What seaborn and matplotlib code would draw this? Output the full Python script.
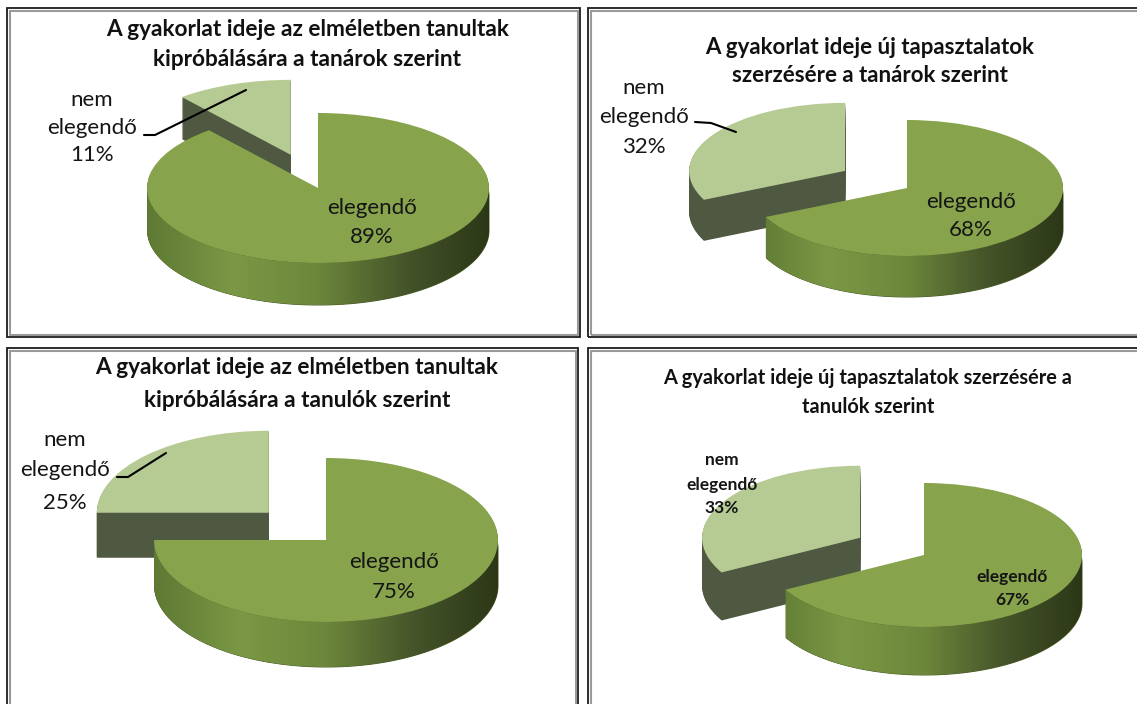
import numpy as np
import matplotlib
matplotlib.use('Agg')
import matplotlib.pyplot as plt
from matplotlib.patches import Rectangle
from matplotlib.lines import Line2D
import seaborn as sns

# data
titles = [
    'A gyakorlat ideje az elméletben tanultak\nkipróbálására a tanárok szerint',
    'A gyakorlat ideje új tapasztalatok\nszerzésére a tanárok szerint',
    'A gyakorlat ideje az elméletben tanultak\nkipróbálására a tanulók szerint',
    'A gyakorlat ideje új tapasztalatok szerzésére a\ntanulók szerint',
]
categories = ['elegendő', 'nem\nelegendő']
enough = [89, 68, 75, 67]
not_enough = [11, 32, 25, 33]

W, H = 1137, 704
sns.set_theme(style='white')
plt.rcParams['font.family'] = ['Lato', 'DejaVu Sans']

bg = '#EAEEDF'
top_big = '#87A34C'
top_small = '#B6CB93'
side_small = '#4F5840'
side_base = '#4A5C28'
side_cmap = sns.blend_palette(['#5E7933', '#7B9845', '#6C873B', '#46552A', '#2C3717'], as_cmap=True)

# layout of each panel in pixels
panels = [
    dict(box=(7, 8, 580, 337), c=(318, 188), r=(171, 75), d=42,
         title=[(308, 30), (307, 60)], tsize=16.3,
         big=[(372, 208), (372, 237)], small=[(92, 100), (92, 128), (92, 155)],
         lsize=16, bold=False, leader=[(144, 135), (155, 135), (246, 90)]),
    dict(box=(588, 8, 1141, 337), c=(907, 188), r=(156, 68), d=41,
         title=[(870, 47), (870, 75)], tsize=16,
         big=[(971, 202), (971, 230)], small=[(644, 88), (644, 117), (644, 147)],
         lsize=16, bold=False, leader=[(695, 122), (711, 123), (736, 132)]),
    dict(box=(7, 348, 578, 710), c=(326, 540), r=(172, 82), d=45,
         title=[(297, 368), (297, 400)], tsize=16.3,
         big=[(394, 562), (394, 592)], small=[(65, 440), (65, 470), (65, 503)],
         lsize=16, bold=False, leader=[(117, 477), (128, 477), (166, 453)]),
    dict(box=(588, 348, 1141, 710), c=(924, 555), r=(158, 72), d=48,
         title=[(868, 378), (868, 407)], tsize=14.4,
         big=[(1012, 577), (1012, 600)], small=[(722, 460), (722, 485), (722, 508)],
         lsize=12.5, bold=True, leader=None),
]

fig = plt.figure(figsize=(W / 100, H / 100), dpi=100)
fig.patch.set_facecolor('white')

def fx(x):
    return x / W

def fy(y):
    return 1 - y / H

grad = np.tile(np.linspace(0, 1, 512), (4, 1))

for i, p in enumerate(panels):
    x0, y0, x1, y1 = p['box']
    ax = fig.add_axes([fx(x0), fy(y1), (x1 - x0) / W, (y1 - y0) / H])
    ax.set_facecolor(bg)
    for s in ax.spines.values():
        s.set_visible(False)

    vals = [enough[i], not_enough[i]]
    cx, cy = p['c']
    rx, ry = p['r']
    dz = p['d'] / ry
    n = p['d']
    # stacked copies of the pie give the side walls
    for k in range(n, 0, -1):
        wedges, _ = ax.pie(vals, colors=[side_base, side_small], startangle=90,
                           counterclock=False, explode=[0, 0.47],
                           center=(0, -dz * k / n), wedgeprops=dict(linewidth=0))
        for w in wedges:
            w.set_zorder(2 + (n - k) * 0.001)
    wedges, _ = ax.pie(vals, colors=[top_big, top_small], startangle=90,
                       counterclock=False, explode=[0, 0.47],
                       wedgeprops=dict(linewidth=0))
    for w in wedges:
        w.set_zorder(4)

    # shaded front wall of the big slice
    big = wedges[0]
    a, b = max(big.theta1, -180), min(big.theta2, 0)
    th = np.radians(np.linspace(a, b, 200))
    band = ax.fill_between(np.cos(th), np.sin(th) - dz, np.sin(th),
                           color=side_base, lw=0, zorder=3)
    im = ax.imshow(grad, cmap=side_cmap, extent=(-1, 1, -1 - dz, 0.2),
                   aspect='auto', interpolation='bilinear', zorder=3.5)
    im.set_clip_path(band.get_paths()[0], ax.transData)

    ax.set_aspect('auto')
    ax.set_xlim(-(cx - x0) / rx, (x1 - cx) / rx)
    ax.set_ylim(-(y1 - cy) / ry, (cy - y0) / ry)
    ax.set_xticks([])
    ax.set_yticks([])

    # frame: dark outer line, grey inner line
    fig.patches.append(Rectangle((fx(x0), fy(y1)), (x1 - x0) / W, (y1 - y0) / H,
                                 transform=fig.transFigure, fill=False,
                                 ec='#1c1c1c', lw=1.3, zorder=10))
    fig.patches.append(Rectangle((fx(x0 + 2.5), fy(y1 - 2.5)), (x1 - x0 - 5) / W, (y1 - y0 - 5) / H,
                                 transform=fig.transFigure, fill=False,
                                 ec='#9a9a9a', lw=1.5, zorder=10))

    # title
    for (tx, ty), line in zip(p['title'], titles[i].split('\n')):
        fig.text(fx(tx), fy(ty), line, ha='center', va='center',
                 fontsize=p['tsize'], fontweight='bold', color='#111111')

    fw = 'bold' if p['bold'] else 'normal'
    big_lines = [categories[0], f'{enough[i]}%']
    for (tx, ty), line in zip(p['big'], big_lines):
        fig.text(fx(tx), fy(ty), line, ha='center', va='center',
                 fontsize=p['lsize'], fontweight=fw, color='#151515')
    small_lines = categories[1].split('\n') + [f'{not_enough[i]}%']
    for (tx, ty), line in zip(p['small'], small_lines):
        fig.text(fx(tx), fy(ty), line, ha='center', va='center',
                 fontsize=p['lsize'], fontweight=fw, color='#151515')
    if p['leader']:
        xs = [fx(a) for a, b in p['leader']]
        ys = [fy(b) for a, b in p['leader']]
        fig.lines.append(Line2D(xs, ys, transform=fig.transFigure,
                                color='black', lw=1.5, zorder=11))

fig.savefig('out.png', dpi=100, facecolor='white')
